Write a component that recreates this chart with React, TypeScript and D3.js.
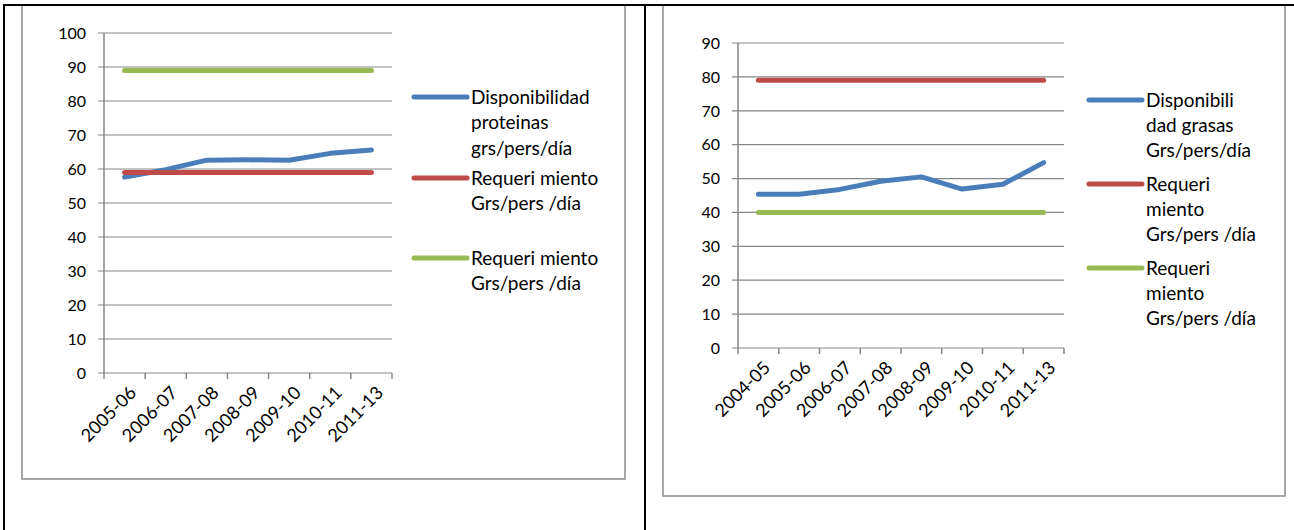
import React from "react";
import * as d3 from "d3";

// ---------- DATA ----------
const leftCategories = ["2005-06", "2006-07", "2007-08", "2008-09", "2009-10", "2010-11", "2011-13"];
const leftDisponibilidad = [57.6, 59.8, 62.6, 62.7, 62.6, 64.6, 65.6];
const leftRequerimientoRojo = [59, 59, 59, 59, 59, 59, 59];
const leftRequerimientoVerde = [89, 89, 89, 89, 89, 89, 89];
const leftYTicks = [0, 10, 20, 30, 40, 50, 60, 70, 80, 90, 100];
const leftLegend = [
  ["Disponibilidad", "proteinas", "grs/pers/día"],
  ["Requeri miento", "Grs/pers /día"],
  ["Requeri miento", "Grs/pers /día"],
];

const rightCategories = ["2004-05", "2005-06", "2006-07", "2007-08", "2008-09", "2009-10", "2010-11", "2011-13"];
const rightDisponibilidad = [45.4, 45.4, 46.8, 49.2, 50.5, 46.9, 48.3, 54.7];
const rightRequerimientoRojo = [79, 79, 79, 79, 79, 79, 79, 79];
const rightRequerimientoVerde = [40, 40, 40, 40, 40, 40, 40, 40];
const rightYTicks = [0, 10, 20, 30, 40, 50, 60, 70, 80, 90];
const rightLegend = [
  ["Disponibili", "dad grasas", "Grs/pers/día"],
  ["Requeri", "miento", "Grs/pers /día"],
  ["Requeri", "miento", "Grs/pers /día"],
];

const COLORS = ["#4A7EBB", "#BE4B48", "#98B954"];
const AXIS = "#868686";
const FONT = "Lato, 'Open Sans', sans-serif";

type ChartProps = {
  categories: string[];
  series: number[][];
  yTicks: number[];
  x0: number;
  x1: number;
  yTop: number;
  yBottom: number;
  legend: string[][];
  legendX: number;
  legendY: number[];
  lineH: number;
};

function Chart(p: ChartProps) {
  const x = d3.scaleBand<string>().domain(p.categories).range([p.x0, p.x1]);
  const yMax = p.yTicks[p.yTicks.length - 1];
  const y = d3.scaleLinear().domain([0, yMax]).range([p.yBottom, p.yTop]);
  const line = d3
    .line<number>()
    .x((_, i) => (x(p.categories[i]) as number) + x.bandwidth() / 2)
    .y((v) => y(v));
  const boundaries = p.categories.map((c) => x(c) as number).concat([p.x1]);
  return (
    <g>
      {p.yTicks.map((t) => (
        <g key={t}>
          <line x1={p.x0 - 6} x2={p.x1} y1={y(t)} y2={y(t)} stroke={AXIS} strokeWidth={1.2} />
          <text x={p.x0 - 18} y={y(t)} dy="0.36em" textAnchor="end" fontSize={16} fontFamily={FONT} fill="#000">
            {t}
          </text>
        </g>
      ))}
      <line x1={p.x0} x2={p.x0} y1={p.yTop} y2={p.yBottom} stroke={AXIS} strokeWidth={1.5} />
      {boundaries.map((bx, i) => (
        <line key={i} x1={bx} x2={bx} y1={p.yBottom} y2={p.yBottom + 6} stroke={AXIS} strokeWidth={1.5} />
      ))}
      {p.categories.map((c) => {
        const cx = (x(c) as number) + x.bandwidth() / 2;
        return (
          <text
            key={c}
            transform={`translate(${cx + 4},${p.yBottom + 12}) rotate(-45)`}
            textAnchor="end"
            dy="0.7em"
            fontSize={18}
            fontFamily={FONT}
            fill="#000"
          >
            {c}
          </text>
        );
      })}
      {p.series.map((s, i) => (
        <path
          key={i}
          d={line(s) as string}
          fill="none"
          stroke={COLORS[i]}
          strokeWidth={5}
          strokeLinecap="round"
          strokeLinejoin="round"
        />
      ))}
      {p.legend.map((lines, i) => (
        <g key={i}>
          <line
            x1={p.legendX - 57}
            x2={p.legendX - 4}
            y1={p.legendY[i]}
            y2={p.legendY[i]}
            stroke={COLORS[i]}
            strokeWidth={5}
            strokeLinecap="round"
          />
          {lines.map((l, j) => (
            <text
              key={j}
              x={p.legendX}
              y={p.legendY[i] + j * p.lineH}
              dy="0.36em"
              fontSize={19}
              fontFamily={FONT}
              fill="#000"
            >
              {l}
            </text>
          ))}
        </g>
      ))}
    </g>
  );
}

export default function App() {
  return (
    <svg
      width={1294}
      height={530}
      style={{ position: "absolute", left: 0, top: 0, background: "#fff" }}
    >
      {/* chart frames */}
      <rect x={22} y={5} width={603} height={474} fill="#fff" stroke="#8a8a8a" strokeWidth={1.5} />
      <rect x={663} y={5} width={622} height={491} fill="#fff" stroke="#8a8a8a" strokeWidth={1.5} />

      <Chart
        categories={leftCategories}
        series={[leftDisponibilidad, leftRequerimientoRojo, leftRequerimientoVerde]}
        yTicks={leftYTicks}
        x0={104}
        x1={392}
        yTop={33}
        yBottom={373}
        legend={leftLegend}
        legendX={471}
        legendY={[97, 178, 258]}
        lineH={25.5}
      />
      <Chart
        categories={rightCategories}
        series={[rightDisponibilidad, rightRequerimientoRojo, rightRequerimientoVerde]}
        yTicks={rightYTicks}
        x0={738}
        x1={1064}
        yTop={43}
        yBottom={348}
        legend={rightLegend}
        legendX={1146}
        legendY={[100, 184, 268]}
        lineH={25.3}
      />

      {/* table borders */}
      <line x1={3} x2={1294} y1={5} y2={5} stroke="#000" strokeWidth={2} />
      <line x1={4} x2={4} y1={4} y2={530} stroke="#000" strokeWidth={2} />
      <line x1={645} x2={645} y1={4} y2={530} stroke="#000" strokeWidth={2} />
    </svg>
  );
}
